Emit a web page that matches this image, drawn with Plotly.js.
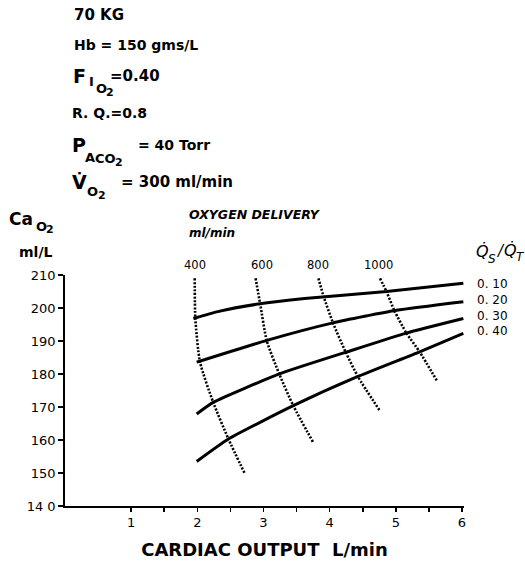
<!DOCTYPE html>
<html>
<head>
<meta charset="utf-8">
<script src="https://cdn.plot.ly/plotly-3.0.1.min.js"></script>
<style>
  html, body { margin: 0; padding: 0; background: #fff; }
  #chart { width: 525px; height: 567px; }
</style>
</head>
<body>
<div id="chart"></div>
<script>
// ---- Data ----
// Shunt fraction (Qs/Qt) curves: cardiac output (L/min) vs CaO2 (ml/L)
const shuntLabels = ['0. 10', '0. 20', '0. 30', '0. 40'];
const shunt10_x = [1.94, 2.31, 2.92, 3.62, 4.86, 6.02];
const shunt10_y = [196.8, 198.9, 201.2, 202.9, 205.0, 207.5];
const shunt20_x = [1.99, 3.05, 4.05, 5.01, 6.02];
const shunt20_y = [183.6, 190.2, 195.5, 199.3, 201.9];
const shunt30_x = [1.99, 2.24, 3.25, 4.26, 5.16, 6.02];
const shunt30_y = [167.9, 171.4, 180.1, 186.7, 192.4, 196.8];
const shunt40_x = [1.99, 2.47, 3.45, 4.41, 5.36, 6.02];
const shunt40_y = [153.5, 160.3, 170.4, 179.1, 186.7, 192.3];

// Iso-oxygen-delivery lines (ml/min)
const deliveryLabels = ['400', '600', '800', '1000'];
const del400_x = [1.96, 1.97, 2.04, 2.24, 2.47, 2.72];
const del400_y = [209, 196.8, 183.6, 171.4, 160.3, 149.7];
const del600_x = [2.88, 2.95, 3.05, 3.24, 3.45, 3.75];
const del600_y = [209, 201.2, 190.0, 179.9, 170.4, 159.3];
const del800_x = [3.83, 3.91, 4.05, 4.24, 4.43, 4.75];
const del800_y = [209, 203.4, 195.5, 186.7, 179.1, 169.1];
const del1000_x = [4.76, 4.86, 4.98, 5.16, 5.36, 5.62];
const del1000_y = [209, 204.9, 199.1, 192.4, 186.7, 178.0];

// Axis ticks
const xTickVals = [1, 1.5, 2, 2.5, 3, 3.5, 4, 4.5, 5, 5.5, 6];
const xTickText = ['1', '', '2', '', '3', '', '4', '', '5', '', '6'];
const yTickVals = [140, 150, 160, 170, 180, 190, 200, 210];
const yTickText = ['14 0', '150', '160', '170', '180', '190', '200', '210'];

// ---- Build traces ----
const shuntX = [shunt10_x, shunt20_x, shunt30_x, shunt40_x];
const shuntY = [shunt10_y, shunt20_y, shunt30_y, shunt40_y];
const delX = [del400_x, del600_x, del800_x, del1000_x];
const delY = [del400_y, del600_y, del800_y, del1000_y];

const XMAX = 6.03;
const traces = [];
for (let i = 0; i < delX.length; i++) {
  traces.push({
    x: delX[i], y: delY[i], type: 'scatter', mode: 'lines',
    line: { color: '#000', width: 2.6, dash: '2px,1.6px', shape: 'spline', smoothing: 0.6 },
    hoverinfo: 'skip', showlegend: false
  });
}
for (let i = 0; i < shuntX.length; i++) {
  traces.push({
    x: shuntX[i], y: shuntY[i], type: 'scatter', mode: 'lines',
    line: { color: '#000', width: 3, shape: 'spline', smoothing: 0.5 },
    hoverinfo: 'skip', showlegend: false
  });
}

// ---- Layout helpers (pixel -> paper) ----
const L = 65, R = 464, T = 275, B = 506;
const px = v => (v - L) / (R - L);
const py = v => (B - v) / (B - T);
const FONT = 'DejaVu Sans';

function txt(text, x, y, size, opts) {
  return Object.assign({
    text: text, xref: 'paper', yref: 'paper', x: px(x), y: py(y),
    xanchor: 'left', yanchor: 'middle', showarrow: false,
    font: { family: FONT, size: size, color: '#000', weight: 'bold' }
  }, opts || {});
}

const annotations = [
  txt('70 KG', 72, 15, 15),
  txt('Hb = 150 gms/L', 72, 45, 14),
  // F I O2 = 0.40
  txt('F', 71, 76, 19),
  txt('I', 87, 81, 13),
  txt('O', 94, 88, 13),
  txt('2', 104, 92, 11),
  txt('=0.40', 108, 76, 15),
  txt('R. Q.=0.8', 70, 113, 14),
  // P A CO2 = 40 Torr
  txt('P', 70, 145, 19),
  txt('A', 83, 157, 13),
  txt('CO', 93, 158, 13),
  txt('2', 113, 162, 11),
  txt('= 40 Torr', 136, 145, 14),
  // V dot O2 = 300 ml/min
  txt('V\u0307', 70, 182, 19),
  txt('O', 85, 191, 13),
  txt('2', 96, 195, 11),
  txt('= 300 ml/min', 119, 182, 15),
  // CaO2 ml/L
  txt('Ca', 7, 219, 17),
  txt('O', 34, 226, 13),
  txt('2', 44, 229, 11),
  txt('ml/L', 17, 252, 14),
  // Oxygen delivery heading
  txt('<i>OXYGEN DELIVERY</i>', 187, 215, 12.5),
  txt('<i>ml/min</i>', 187, 233, 12),
  // Qs/Qt heading
  txt('<i>Q\u0307</i>', 474, 252, 16, { font: { family: FONT, size: 16, color: '#000' } }),
  txt('<i>S</i>', 486, 259, 12, { font: { family: FONT, size: 12, color: '#000' } }),
  txt('<i>/</i>', 494, 251, 15, { font: { family: FONT, size: 15, color: '#000' } }),
  txt('<i>Q\u0307</i>', 502, 250, 16, { font: { family: FONT, size: 16, color: '#000' } }),
  txt('<i>T</i>', 514, 257, 12, { font: { family: FONT, size: 12, color: '#000' } })
];

// Delivery labels attached to the top of each dotted line
const delLabelShift = [0, 6, 0, -1];
for (let i = 0; i < delX.length; i++) {
  annotations.push({
    text: deliveryLabels[i], xref: 'x', yref: 'y', x: delX[i][0], y: delY[i][0],
    xanchor: 'center', yanchor: 'middle', yshift: 13, xshift: delLabelShift[i], showarrow: false,
    font: { family: FONT, size: 11.5, color: '#000' }
  });
}
// Shunt labels at the right end of each curve
const shuntLabelShift = [-1, 2, 3, 2];
for (let i = 0; i < shuntX.length; i++) {
  const n = shuntX[i].length - 1;
  annotations.push({
    text: shuntLabels[i], xref: 'x', yref: 'y', x: shuntX[i][n], y: shuntY[i][n],
    xanchor: 'left', yanchor: 'middle', xshift: 12, yshift: shuntLabelShift[i], showarrow: false,
    font: { family: FONT, size: 12, color: '#000' }
  });
}

const layout = {
  width: 525, height: 567,
  margin: { l: L, r: 525 - R, t: T, b: 567 - B, pad: 0 },
  paper_bgcolor: '#fff', plot_bgcolor: '#fff',
  showlegend: false,
  xaxis: {
    range: [0, XMAX], showgrid: false, zeroline: false,
    showline: true, linecolor: '#000', linewidth: 1.8,
    ticks: 'outside', ticklen: 4, tickwidth: 1.6, tickcolor: '#000',
    tickmode: 'array', tickvals: xTickVals, ticktext: xTickText,
    tickfont: { family: FONT, size: 13, color: '#000' },
    title: { text: 'CARDIAC OUTPUT  L/min', standoff: 14,
             font: { family: FONT, size: 18, color: '#000', weight: 'bold' } }
  },
  yaxis: {
    range: [140, 210], showgrid: false, zeroline: false,
    showline: true, linecolor: '#000', linewidth: 1.8,
    ticks: 'outside', ticklen: 5, tickwidth: 1.6, tickcolor: '#000',
    tickmode: 'array', tickvals: yTickVals, ticktext: yTickText,
    tickfont: { family: FONT, size: 13, color: '#000' }
  },
  annotations: annotations
};

Plotly.newPlot('chart', traces, layout, { displayModeBar: false, staticPlot: true });
</script>
</body>
</html>
